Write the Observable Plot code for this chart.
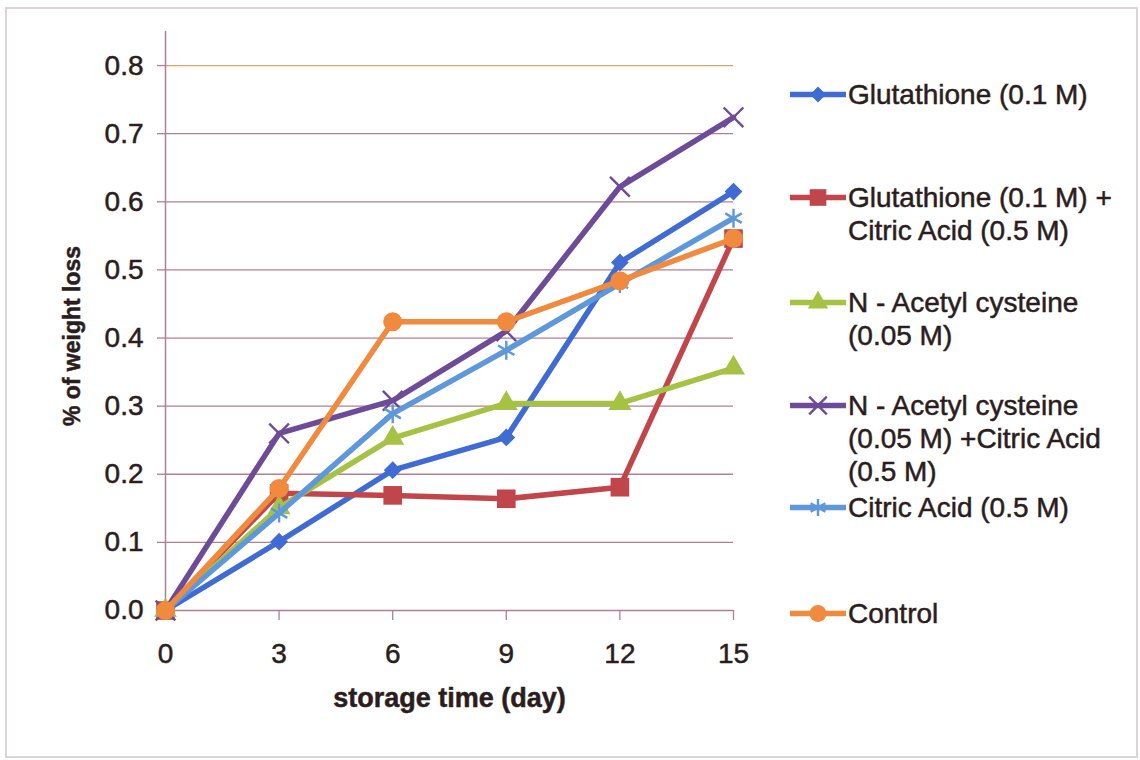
<!DOCTYPE html>
<html>
<head>
<meta charset="utf-8">
<script src="https://cdn.jsdelivr.net/npm/d3@7"></script>
<script src="https://cdn.jsdelivr.net/npm/@observablehq/plot@0.6"></script>
<style>
  body { margin: 0; background: #fff; }
  #wrap { position: relative; width: 1140px; height: 760px; font-family: "Liberation Sans", Arial, sans-serif; color: #2b1d1d; overflow: hidden; }
  #border { position: absolute; left: 5px; top: 7px; width: 1133px; height: 751px; border: 2px solid #dcd5d8; box-sizing: border-box; pointer-events: none; }
  #chart { position: absolute; left: 0; top: 0; }
  .item { position: absolute; left: 790px; display: flex; align-items: flex-start; }
  .item svg { flex: none; margin-top: 0; }
  .item .txt { margin-left: 2px; font-size: 28px; line-height: 33px; white-space: nowrap; -webkit-text-stroke: 0.5px #2b1d1d; }
</style>
</head>
<body>
<div id="wrap">
  <div id="chart"></div>
  <div id="legend"></div>
  <div id="border"></div>
</div>
<script>
// ---- data ----
const days = [0, 3, 6, 9, 12, 15];
const seriesNames = [
  "Glutathione (0.1 M)",
  "Glutathione (0.1 M) + Citric Acid (0.5 M)",
  "N - Acetyl cysteine (0.05 M)",
  "N - Acetyl cysteine (0.05 M) +Citric Acid (0.5 M)",
  "Citric Acid (0.5 M)",
  "Control"
];
const legendLines = [
  ["Glutathione (0.1 M)"],
  ["Glutathione (0.1 M) +", "Citric Acid (0.5 M)"],
  ["N - Acetyl cysteine", "(0.05 M)"],
  ["N - Acetyl cysteine", "(0.05 M) +Citric Acid", "(0.5 M)"],
  ["Citric Acid (0.5 M)"],
  ["Control"]
];
const glutathione     = [0, 0.101, 0.206, 0.254, 0.511, 0.615];
const glutCitric      = [0, 0.172, 0.169, 0.164, 0.181, 0.546];
const nac             = [0, 0.151, 0.253, 0.304, 0.304, 0.356];
const nacCitric       = [0, 0.260, 0.308, 0.410, 0.622, 0.724];
const citric          = [0, 0.143, 0.289, 0.382, 0.480, 0.576];
const control         = [0, 0.179, 0.424, 0.424, 0.484, 0.546];
const xTicks = [0, 3, 6, 9, 12, 15];
const yTicks = [0, 0.1, 0.2, 0.3, 0.4, 0.5, 0.6, 0.7, 0.8];

// ---- styles ----
const seriesValues = [glutathione, glutCitric, nac, nacCitric, citric, control];
const colors  = ["#3f6bd2", "#c0464b", "#a6c244", "#6d4b97", "#5e98da", "#f08a3e"];
const symbols = ["diamond2", "square", "triangle", "times", "asterisk", "circle"];
const radii   = [8, 10.5, 8.5, 9, 9, 9.5];
const filled  = [true, true, true, false, false, true];
const gridColor = "#b07f93";
const topGridColor = "#d9a56a";
const ink = "#2b1d1d";

const rows = seriesNames.flatMap((name, s) =>
  days.map((d, i) => ({ series: name, s, day: d, value: seriesValues[s][i] }))
);

const marks = [];
// gridlines
marks.push(Plot.ruleY(yTicks.filter(v => v > 0 && v < 0.8), { stroke: gridColor, strokeWidth: 1.3 }));
marks.push(Plot.ruleY([0.8], { stroke: topGridColor, strokeWidth: 1.3 }));
// axes lines
marks.push(Plot.ruleX([0], { y1: 0, y2: 0.85, stroke: gridColor, strokeWidth: 1.5 }));
marks.push(Plot.ruleY([0], { stroke: gridColor, strokeWidth: 1.5 }));
marks.push(Plot.axisY({ ticks: yTicks, tickFormat: d => d.toFixed(1), tickSize: 8, tickPadding: 14, stroke: gridColor, label: null, fontSize: 28, fill: ink, strokeWidth: 1.3 }));
marks.push(Plot.axisX({ ticks: xTicks, tickFormat: d => String(d), tickSize: 10, tickPadding: 23, stroke: gridColor, label: null, fontSize: 28, fill: ink, strokeWidth: 1.3 }));
// series
seriesNames.forEach((name, s) => {
  const data = rows.filter(r => r.s === s);
  marks.push(Plot.line(data, { x: "day", y: "value", stroke: colors[s], strokeWidth: 5.5, strokeLinejoin: "round", strokeLinecap: "round" }));
  marks.push(Plot.dot(data, filled[s]
    ? { x: "day", y: "value", symbol: symbols[s], r: radii[s], fill: colors[s], stroke: "none" }
    : { x: "day", y: "value", symbol: symbols[s], r: radii[s], stroke: colors[s], strokeWidth: 2.4, fill: "none" }));
});
// axis titles
marks.push(Plot.text(["storage time (day)"], { frameAnchor: "bottom", dy: 96, fontSize: 27, fontWeight: "bold", fill: ink }));
marks.push(Plot.text(["% of weight loss"], { frameAnchor: "left", textAnchor: "middle", dx: -93, dy: 15, rotate: -90, fontSize: 23, fontWeight: "bold", fill: ink }));

const chart = Plot.plot({
  width: 1140,
  height: 760,
  marginLeft: 165,
  marginRight: 407,
  marginTop: 31,
  marginBottom: 150,
  x: { domain: [0, 15] },
  y: { domain: [0, 0.85] },
  style: { fontFamily: '"Liberation Sans", Arial, sans-serif', fontSize: "28px", color: ink, background: "transparent", overflow: "visible" },
  marks
});
chart.querySelectorAll("text").forEach(t => { t.setAttribute("stroke", ink); t.setAttribute("stroke-width", "0.5"); t.setAttribute("paint-order", "fill"); });
document.getElementById("chart").appendChild(chart);

// ---- legend (HTML) ----
const legendCenters = [94, 197, 302, 405, 507, 613];
const legend = d3.select("#legend");
const typeMap = { diamond2: d3.symbolDiamond2, square: d3.symbolSquare, triangle: d3.symbolTriangle, times: d3.symbolTimes, asterisk: d3.symbolAsterisk, circle: d3.symbolCircle };
seriesNames.forEach((name, s) => {
  const item = legend.append("div").attr("class", "item").style("top", (legendCenters[s] - 16.5) + "px");
  const sw = item.append("svg").attr("width", 56).attr("height", 33);
  sw.append("line").attr("x1", 1).attr("x2", 55).attr("y1", 16.5).attr("y2", 16.5)
    .attr("stroke", colors[s]).attr("stroke-width", 5.5).attr("stroke-linecap", "round");
  const path = d3.symbol(typeMap[symbols[s]], Math.PI * radii[s] * radii[s] * 0.8)();
  const p = sw.append("path").attr("d", path).attr("transform", "translate(28,16.5)");
  if (filled[s]) p.attr("fill", colors[s]); else p.attr("fill", "none").attr("stroke", colors[s]).attr("stroke-width", 2.4);
  const txt = item.append("div").attr("class", "txt");
  legendLines[s].forEach(l => txt.append("div").text(l));
});
</script>
</body>
</html>
